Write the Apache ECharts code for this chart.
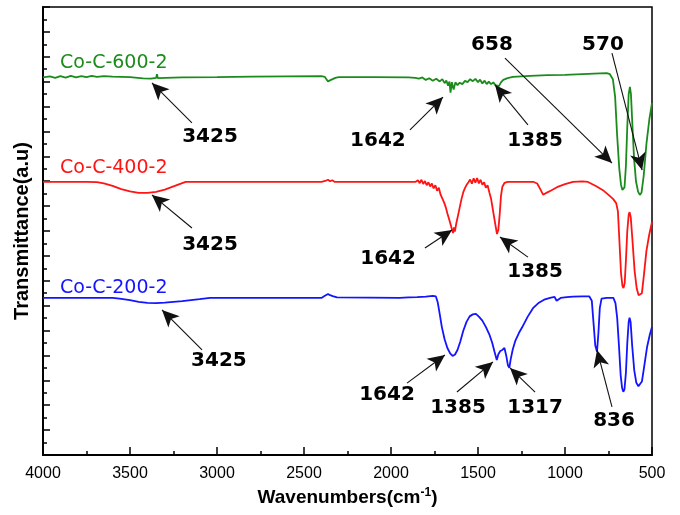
<!DOCTYPE html>
<html>
<head>
<meta charset="utf-8">
<script src="https://cdn.jsdelivr.net/npm/echarts@6/dist/echarts.min.js"></script>
<style>html,body{margin:0;padding:0;background:#fff}#c{width:680px;height:515px}</style>
</head>
<body>
<div id="c"></div>
<script>
// x tick labels (wavenumber, cm-1)
var xTicks = [4000, 3500, 3000, 2500, 2000, 1500, 1000, 500];

// Co-C-600-2 spectrum [wavenumber, transmittance (a.u.)]
var coC600 = [
 [4000,15.17],[3960,15.21],[3930,15.15],[3900,15.22],[3870,15.16],[3840,15.23],[3810,15.17],[3780,15.22],[3750,15.18],[3720,15.23],[3690,15.19],[3650,15.22],[3600,15.20],[3500,15.18],[3425,15.13],[3380,15.12],[3350,15.15],[3345,15.30],[3340,15.14],[3250,15.16],[3200,15.17],[3000,15.18],[2800,15.20],[2600,15.21],[2400,15.22],[2380,15.19],[2362,15.01],[2345,15.07],[2320,15.15],[2300,15.18],[2100,15.18],[1900,15.17],[1860,15.15],
 [1840,15.12],[1820,15.17],[1800,15.07],[1780,15.14],[1760,15.04],[1740,15.12],[1720,15.01],[1705,15.10],[1692,14.94],[1682,15.05],[1672,14.84],[1664,15.00],[1658,14.56],[1650,14.98],[1640,14.68],[1630,14.97],[1618,14.86],[1605,14.96],[1590,14.90],[1575,15.03],[1560,14.98],[1545,15.10],[1530,15.02],[1515,15.11],[1500,14.98],[1488,15.08],[1475,14.93],[1462,15.04],[1450,14.90],[1438,15.00],[1425,14.90],[1412,14.97],[1400,14.86],[1390,14.79],[1380,14.82],[1368,14.97],[1355,15.07],[1330,15.14],[1300,15.19],[1200,15.23],[1100,15.26],[1000,15.27],[900,15.30],[800,15.33],[760,15.34],[742,15.30],
 [725,15.10],[712,14.40],[700,12.80],[688,11.50],[678,10.85],[670,10.65],[664,10.62],[658,10.75],[650,11.60],[642,13.20],[634,14.50],[627,14.79],[621,14.50],[613,13.30],[603,11.90],[592,11.00],[580,10.58],[570,10.45],[560,10.55],[548,11.20],[532,12.50],[515,13.50],[500,14.14]
];

// Co-C-400-2 spectrum
var coC400 = [
 [4000,10.97],[3750,10.97],[3690,10.96],[3650,10.91],[3600,10.81],[3550,10.68],[3500,10.59],[3450,10.53],[3400,10.53],[3350,10.57],[3300,10.66],[3250,10.79],[3200,10.92],[3180,10.97],[2400,10.97],[2378,11.01],[2362,11.06],[2350,11.00],[2338,11.04],[2322,10.97],[1860,10.97],
 [1845,11.04],[1835,10.92],[1825,11.06],[1815,10.89],[1805,11.01],[1795,10.84],[1785,10.96],[1775,10.79],[1765,10.91],[1755,10.71],[1745,10.84],[1735,10.62],[1725,10.74],[1715,10.46],[1705,10.38],[1695,10.15],[1685,9.95],[1675,9.68],[1665,9.45],[1655,9.20],[1648,9.02],[1643,8.92],[1638,9.14],[1633,8.98],[1625,9.30],[1615,9.62],[1605,9.95],[1595,10.28],[1585,10.55],[1575,10.72],[1565,10.86],[1555,10.96],[1545,11.07],[1535,10.90],[1525,11.12],[1515,10.94],[1505,11.13],[1495,10.91],[1485,11.06],[1475,10.86],[1465,10.96],[1455,10.74],[1445,10.84],[1435,10.56],[1425,10.30],[1412,9.75],[1400,9.25],[1391,8.88],[1383,9.05],[1375,9.70],[1368,10.40],[1360,10.78],[1348,10.93],[1330,10.97],
 [1180,10.97],[1160,10.91],[1142,10.68],[1126,10.46],[1110,10.52],[1080,10.63],[1046,10.76],[1000,10.88],[954,10.97],[900,10.99],[868,10.97],[820,10.80],[782,10.64],[750,10.45],[724,10.29],[706,10.12],[696,9.80],[688,8.70],[678,7.30],[670,6.80],[664,6.71],[657,6.90],[650,7.80],[642,9.00],[634,9.65],[629,9.76],[622,9.55],[612,8.60],[600,7.40],[588,6.70],[577,6.42],[568,6.35],[558,6.50],[547,7.20],[532,8.20],[516,8.85],[500,9.36]
];

// Co-C-200-2 spectrum
var coC200 = [
 [4000,6.31],[3600,6.31],[3560,6.28],[3500,6.22],[3450,6.15],[3400,6.11],[3350,6.10],[3300,6.12],[3200,6.18],[3100,6.26],[3040,6.31],[2400,6.31],[2380,6.40],[2362,6.47],[2350,6.42],[2335,6.38],[2310,6.33],[2300,6.31],[1950,6.31],[1900,6.33],[1850,6.34],[1800,6.36],[1760,6.39],[1742,6.37],
 [1732,6.15],[1722,5.75],[1708,5.15],[1692,4.65],[1676,4.30],[1660,4.08],[1646,3.98],[1632,4.04],[1618,4.22],[1602,4.55],[1585,4.98],[1566,5.35],[1548,5.57],[1530,5.65],[1512,5.67],[1495,5.56],[1475,5.40],[1455,5.15],[1435,4.85],[1418,4.50],[1405,4.15],[1392,3.82],[1383,4.05],[1372,4.18],[1360,4.22],[1348,4.30],[1338,4.00],[1328,3.60],[1320,3.50],[1312,3.85],[1300,4.25],[1285,4.60],[1265,4.90],[1247,5.12],[1215,5.55],[1184,5.90],[1150,6.12],[1120,6.24],[1086,6.31],[1060,6.35],[1048,6.20],[1040,6.17],[1025,6.31],[990,6.34],[954,6.36],[900,6.37],[860,6.37],
 [846,6.20],[836,5.30],[826,4.40],[816,4.15],[808,4.90],[800,5.90],[790,6.28],[760,6.31],[722,6.31],[710,6.10],[700,5.50],[690,4.40],[680,3.20],[672,2.70],[665,2.54],[658,2.65],[650,3.30],[642,4.50],[634,5.35],[629,5.52],[623,5.35],[614,4.40],[602,3.40],[590,2.90],[578,2.76],[568,2.74],[558,2.95],[545,3.55],[528,4.35],[512,4.85],[500,5.14]
];

// series name labels [wavenumber, value, text]
var seriesLabels = [
 [3902, 15.75, 'Co-C-600-2'],
 [3902, 11.53, 'Co-C-400-2'],
 [3902, 6.71, 'Co-C-200-2']
];

// peak annotation labels [wavenumber, value, text]
var peakLabels = [
 [3040,12.78,'3425'],[2075,12.62,'1642'],[1172,12.62,'1385'],[1420,16.47,'658'],[782,16.47,'570'],
 [3040,8.44,'3425'],[2017,7.87,'1642'],[1172,7.35,'1385'],
 [2989,3.78,'3425'],[2023,2.41,'1642'],[1615,1.89,'1385'],[1172,1.89,'1317'],[718,1.37,'836']
];

// annotation arrows [fromWn, fromVal, toWn, toVal]
var arrows = [
 [3144,13.34,3374,14.95],[1891,13.06,1701,14.38],[1213,13.26,1402,14.87],[1345,15.95,730,11.73],[730,16.15,557,11.45],
 [3144,9.12,3374,10.45],[1805,8.32,1649,9.04],[1213,7.95,1374,8.76],
 [3086,4.22,3316,5.83],[1908,2.89,1690,4.02],[1621,2.53,1414,3.74],[1172,2.53,1316,3.50],[730,1.93,816,4.22]
];

var colors = ['#1b8c1b', '#ff1414', '#1414ff'];
var chart = echarts.init(document.getElementById('c'));

function specSeries(name, data, color) {
  return {
    name: name, type: 'line', data: data, showSymbol: false, symbol: 'none',
    lineStyle: { color: color, width: 1.8 }, z: 3, animation: false, silent: true
  };
}

var option = {
  animation: false,
  backgroundColor: '#fff',
  grid: { left: 43, right: 28, top: 7, bottom: 60, show: true, borderColor: '#000', borderWidth: 1.5, backgroundColor: 'transparent' },
  xAxis: {
    type: 'value', min: 500, max: 4000, interval: 500, inverse: true,
    name: 'Wavenumbers(cm{sup|-1})',
    nameLocation: 'middle', nameGap: 28,
    nameTextStyle: { fontFamily: 'Liberation Sans', fontWeight: 'bold', fontSize: 19, color: '#000',
      rich: { sup: { fontFamily: 'Liberation Sans', fontWeight: 'bold', fontSize: 12, color: '#000', verticalAlign: 'top', padding: [0,0,10,0] } } },
    axisLine: { show: true, lineStyle: { color: '#000', width: 2 } },
    axisTick: { show: true, inside: true, length: 8, lineStyle: { color: '#000', width: 1.5 } },
    minorTick: { show: true, splitNumber: 2, length: 4, lineStyle: { color: '#000', width: 1.5 } },
    axisLabel: { show: true, margin: 11, fontFamily: 'Liberation Sans', fontSize: 16, color: '#000',
      formatter: function (v) { return xTicks.indexOf(v) >= 0 ? String(v) : ''; } },
    splitLine: { show: false }
  },
  yAxis: {
    type: 'value', min: 0, max: 18, interval: 1,
    name: 'Transmittance(a.u)', nameLocation: 'middle', nameGap: 11, nameRotate: 90,
    nameTextStyle: { fontFamily: 'Liberation Sans', fontWeight: 'bold', fontSize: 20, color: '#000' },
    axisLine: { show: true, lineStyle: { color: '#000', width: 2 } },
    axisTick: { show: true, inside: true, length: 7, lineStyle: { color: '#000', width: 1.5 } },
    minorTick: { show: true, splitNumber: 2, length: 4, lineStyle: { color: '#000', width: 1.5 } },
    axisLabel: { show: false },
    splitLine: { show: false }
  },
  series: [
    specSeries('Co-C-600-2', coC600, colors[0]),
    specSeries('Co-C-400-2', coC400, colors[1]),
    specSeries('Co-C-200-2', coC200, colors[2]),
    {
      type: 'scatter', name: 'seriesLabels', symbolSize: 0, silent: true, z: 5,
      itemStyle: { opacity: 1 },
      data: seriesLabels.map(function (d, i) { return { value: [d[0], d[1]], label: { color: colors[i] } }; }),
      label: { show: true, position: 'inside', align: 'left', verticalAlign: 'middle',
        fontFamily: 'DejaVu Sans', fontSize: 19, textBorderWidth: 0, textBorderColor: 'transparent',
        formatter: function (p) { return seriesLabels[p.dataIndex][2]; } }
    },
    {
      type: 'scatter', name: 'peakLabels', symbolSize: 0, silent: true, z: 5,
      itemStyle: { opacity: 1 },
      data: peakLabels.map(function (d) { return [d[0], d[1]]; }),
      label: { show: true, position: 'inside', align: 'center', verticalAlign: 'middle',
        fontFamily: 'DejaVu Sans', fontWeight: 'bold', fontSize: 20, color: '#000',
        textBorderWidth: 0, textBorderColor: 'transparent',
        formatter: function (p) { return peakLabels[p.dataIndex][2]; } },
      markLine: {
        silent: true, symbol: ['none', 'arrow'], symbolSize: [12, 17],
        lineStyle: { color: '#111', width: 1.1, type: 'solid' },
        label: { show: false },
        animation: false,
        data: arrows.map(function (a) { return [{ coord: [a[0], a[1]] }, { coord: [a[2], a[3]] }]; })
      }
    }
  ]
};
chart.setOption(option);
</script>
</body>
</html>
